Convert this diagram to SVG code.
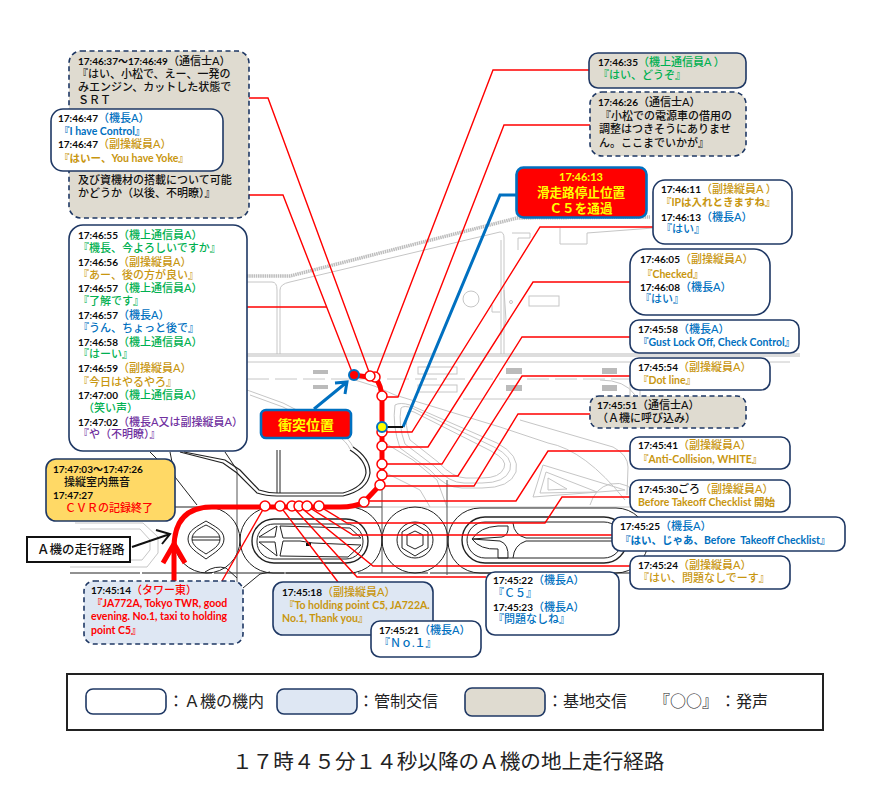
<svg xmlns="http://www.w3.org/2000/svg" width="871" height="793" viewBox="0 0 871 793">
<style>
text{font-family:"Lato","Noto Sans CJK JP",sans-serif;font-size:10.5px;font-weight:700;white-space:pre}
.t{font-size:10px;fill:#0a0a0a}
.j{font-size:11px;font-weight:500}
.bl{fill:#0070C0}.go{fill:#C8960F}.gr{fill:#00B050}.pu{fill:#7030A0}.re{fill:#F00}.k{fill:#111}
.w{fill:#fff;stroke:#1F3864;stroke-width:1.6}
.tan{fill:#DFDBD0;stroke:#1F3864;stroke-width:1.6}
.lb{fill:#DEE7F3;stroke:#1F3864;stroke-width:1.6}
.d{stroke-dasharray:5 3.5}
.hot{fill:#F00;stroke:#0070C0;stroke-width:2.6}
.y{fill:#FF0;font-weight:700;text-anchor:middle}
.leg{font-family:"Noto Sans CJK JP",sans-serif;font-size:16px;font-weight:400;fill:#222}
.gy{fill:none;stroke:#c6c6c6;stroke-width:1}
.bk{fill:none;stroke:#222;stroke-width:1}
.dk{fill:none;stroke:#555;stroke-width:1}
.rl{fill:none;stroke:#F00;stroke-width:1.4}
.st{fill:#fff;stroke:#F00;stroke-width:1.5}
</style>
<rect width="871" height="793" fill="#fff"/>
<g id="map">
<path class="gy" d="M247 276H290L517 218L650 217" style="stroke:#bdbdbd;stroke-width:3.500;stroke-dasharray:1.500 .7"/>
<path class="gy" d="M247 282H272Q277 282 277 290V354M280 354V290Q280 284 290 282L500 232Q504 232 504 238V354M501 354V240"/>
<path class="gy" d="M512 233H530V238L518 238V250M560 228V244H587V233L653 228"/>
<circle class="gy" cx="471" cy="299" r="8"/><circle class="gy" cx="511" cy="302" r="1.5"/>
<rect class="gy" x="529" y="296" width="30" height="10"/>
<path class="gy" d="M492 305V312H500M504 290L506 320L501 335"/>
<path class="gy" d="M247 354H800M247 356H800" style="stroke:#bbb"/>
<path class="gy" d="M247 379H640" style="stroke-dasharray:22 6"/>
<path class="gy" d="M247 362H790M463 399H600"/>
<rect class="gy" x="418" y="367" width="39" height="7"/><rect class="gy" x="418" y="385" width="39" height="7"/>
<g fill="#bbb"><rect x="313" y="370" width="15" height="4"/><rect x="313" y="385" width="15" height="4"/><rect x="506" y="368" width="16" height="6"/><rect x="506" y="385" width="16" height="6"/><rect x="602" y="368" width="15" height="6"/><rect x="602" y="385" width="15" height="6"/></g>
<path class="gy" d="M247 390L283 403L340 432Q350 440 353 447M250 395L283 407L337 435Q347 442 350 449"/>
<path class="gy" d="M355 380Q375 385 395 395L500 427L548 443Q585 450 625 500M630 380V398"/>
<path class="gy" d="M395 405Q400 402 410 405L497 443Q520 455 516 472Q510 488 482 488H462Q445 488 430 470L400 448Q392 425 395 405Z"/>
<path class="gy" d="M401 408Q404 405 412 408L494 447Q514 457 510 470Q505 483 482 483H464Q449 483 434 466L405 444Q398 425 401 408Z"/>
<path class="gy" d="M408 412Q410 410 414 412L491 451Q508 460 504 468Q500 478 482 478H466Q453 478 438 462L410 440Q404 425 408 412Z"/>
<path class="gy" d="M520 420L613 447Q628 455 628 467L627 495M380 440L413 460L437 480L447 507M380 470L420 490L430 507"/>
<path class="gy" d="M543 465L625 490L533 497Z M546 472L597 492L540 493Z M548 478L567 489L548 490Z"/>
<path class="gy" d="M590 505Q595 488 610 484Q630 480 640 500"/>
<path class="gy" d="M75 523H143L158 537V553L147 567H70M80 529H140L150 540V550L142 560H120"/>
<path class="gy" d="M382 507H630"/>
<path class="gy" d="M640 390V400M600 380Q625 380 635 395"/>
<path class="bk" d="M175 507H382M70 573H640" style="stroke-dasharray:70 2"/>
<path class="dk" d="M237 470V590M382 488V573M447 480V575"/>
<circle class="bk" cx="207" cy="540" r="33"/>
<path class="bk" d="M188 539C188 530 198 526 206 521C214 526 224 530 224 539C224 548 214 553 206 559C198 553 188 548 188 539Z"/>
<path class="bk" d="M192 539C192 532 200 528 206 525C212 528 220 532 220 539C220 546 212 550 206 554C200 550 192 546 192 539ZM192 537H220M192 540H220"/>
<rect class="bk" x="240" y="507" width="142" height="66" rx="33"/>
<rect class="bk" x="252" y="519" width="116" height="44" rx="22" style="stroke-width:1.4"/>
<rect class="bk" x="257" y="524" width="106" height="35" rx="17"/>
<path class="bk" d="M259 537L277 526L275 537ZM259 542L277 556L275 542ZM280 526L350 528L361 538H283ZM280 556L348 557L361 545L313 543L300 541H283Z"/>
<rect x="306" y="543" width="5" height="3" fill="#111"/>
<circle class="bk" cx="415" cy="540" r="33"/><circle class="bk" cx="415" cy="540" r="18"/>
<polygon class="bk" points="415,524 428,532 428,548 415,556 402,548 402,532"/>
<polygon class="bk" points="415,531 423,535 423,545 415,549 407,545 407,535"/>
<rect class="bk" x="448" y="508" width="200" height="65" rx="32"/>
<rect class="bk" x="462" y="517" width="165" height="46" rx="23" style="stroke-width:1.4"/>
<rect class="bk" x="467" y="522" width="155" height="36" rx="18"/>
<path class="bk" d="M472 539Q480 527 498 526H508Q509 535 502 537L472 539L500 541Q509 544 508 558H498V549Q480 550 472 539ZM513 523Q514 535 526 538H620M513 558Q514 545 526 541H620"/>
<path class="bk" d="M180 452L223 463L237 473L257 493Q266 496 277 496H343Q368 490 370 473Q370 458 353 447" style="stroke-width:1.2"/>
<path class="bk" d="M184 452L225 460L240 470L259 490Q268 493 277 493H343Q364 487 366 473Q366 460 350 450" style="stroke-width:1.2"/>
<path class="bk" d="M277 493V450M280 493V450"/>
<path class="bk" d="M150 452L160 462M170 452L175 477L197 505M237 470L225 452M205 572Q215 565 226 568L237 578M243 588L260 574L270 572"/>
</g>
<g id="connectors">
<path class="rl" d="M249 98H268L369 372"/>
<path class="rl" d="M249 195H283L352 372"/>
<path class="rl" d="M247 307H327"/>
<path class="rl" d="M589 70H493L377 372"/>
<path class="rl" d="M590 125H504L398 397H382"/>
<path class="rl" d="M653 227H540L412 432H382"/>
<path class="rl" d="M630 282H533L428 447H382"/>
<path class="rl" d="M630 337H522L442 464H382"/>
<path class="rl" d="M630 376H522L458 476H382"/>
<path class="rl" d="M590 414H518L474 486H380"/>
<path class="rl" d="M630 451H548L516 501H364"/>
<path class="rl" d="M630 497H562L545 523H347L319 506"/>
<path class="rl" d="M612 535H353L307 506"/>
<path class="rl" d="M630 566H373L299 506"/>
<path class="rl" d="M486 577H357L292 506"/>
<path class="rl" d="M338 582L280 506"/>
<path class="rl" d="M222 581L265 506"/>
<path d="M516 195H500L403 427" fill="none" stroke="#0070C0" stroke-width="3"/>
<path d="M403 427H382" fill="none" stroke="#111" stroke-width="2"/>
<path d="M174 581V548Q174 507 212 507H340Q355 507 364 502L380 485L382 475V400Q382 385 375 378L354 375" fill="none" stroke="#F00" stroke-width="5"/>
<path d="M163 563L174 544L185 563" fill="none" stroke="#F00" stroke-width="5"/>
<path d="M132 547L170 534M156 530L170 534L162 544" fill="none" stroke="#111" stroke-width="2"/>
<path d="M314 409L347 382M335 383L347 382L345 394" fill="none" stroke="#0070C0" stroke-width="3"/>
<g id="route-points">
<circle class="st" cx="265" cy="506" r="5"/><circle class="st" cx="280" cy="506" r="5"/><circle class="st" cx="292" cy="506" r="5"/><circle class="st" cx="299" cy="506" r="5"/><circle class="st" cx="307" cy="506" r="5"/><circle class="st" cx="319" cy="506" r="5"/><circle class="st" cx="364" cy="502" r="5"/><circle class="st" cx="380" cy="485" r="5"/><circle class="st" cx="382" cy="475" r="5"/><circle class="st" cx="382" cy="464" r="5"/><circle class="st" cx="382" cy="446" r="5"/><circle class="st" cx="382" cy="432" r="5"/><circle cx="382" cy="427" r="5" fill="#FF0" stroke="#0070C0" stroke-width="2"/><circle class="st" cx="382" cy="396" r="5"/><circle class="st" cx="375" cy="377" r="5"/><circle class="st" cx="370" cy="376" r="5"/><circle cx="354" cy="375" r="5" fill="#F00" stroke="#0070C0" stroke-width="2"/>
</g>
</g>
<g id="n-463749">
<rect class="tan d" x="69" y="51" width="180" height="167" rx="12"/>
<text x="78" y="65"><tspan class="t">17:46:37～17:46:49</tspan><tspan class="j k">（通信士A）</tspan></text>
<text class="j k" x="77" y="78">『はい、小松で、えー、一発の</text>
<text class="j k" x="78" y="91">みエンジン、カットした状態で</text>
<text class="j k" x="78" y="104">ＳＲＴ</text>
<text class="j k" x="78" y="184">及び資機材の搭載について可能</text>
<text class="j k" x="78" y="197">かどうか（以後、不明瞭）』</text>
</g>
<g id="n-464647">
<rect class="w" x="51" y="109" width="172" height="62" rx="12"/>
<text x="58" y="122"><tspan class="t">17:46:47</tspan><tspan class="j bl">（機長A）</tspan></text>
<text class="bl" x="59" y="135">『I have Control』</text>
<text x="58" y="148"><tspan class="t">17:46:47</tspan><tspan class="j go">（副操縦員A）</tspan></text>
<text class="go" x="59" y="162">『はいー、You have Yoke』</text>
</g>
<g id="n-464655">
<rect class="w" x="69" y="225" width="178" height="226" rx="14"/>
<text x="78" y="239"><tspan class="t">17:46:55</tspan><tspan class="j gr">（機上通信員A）</tspan></text>
<text class="j gr" x="78" y="252">『機長、今よろしいですか』</text>
<text x="78" y="266"><tspan class="t">17:46:56</tspan><tspan class="j go">（副操縦員A）</tspan></text>
<text class="j go" x="78" y="279">『あー、後の方が良い』</text>
<text x="78" y="292"><tspan class="t">17:46:57</tspan><tspan class="j gr">（機上通信員A）</tspan></text>
<text class="j gr" x="78" y="305">『了解です』</text>
<text x="78" y="319"><tspan class="t">17:46:57</tspan><tspan class="j bl">（機長A）</tspan></text>
<text class="j bl" x="78" y="332">『うん、ちょっと後で』</text>
<text x="78" y="346"><tspan class="t">17:46:58</tspan><tspan class="j gr">（機上通信員A）</tspan></text>
<text class="j gr" x="78" y="358">『はーい』</text>
<text x="78" y="372"><tspan class="t">17:46:59</tspan><tspan class="j go">（副操縦員A）</tspan></text>
<text class="j go" x="78" y="386">『今日はやるやろ』</text>
<text x="78" y="399"><tspan class="t">17:47:00</tspan><tspan class="j gr">（機上通信員A）</tspan></text>
<text class="j gr" x="83" y="412">（笑い声）</text>
<text x="78" y="426"><tspan class="t">17:47:02</tspan><tspan class="j pu">（機長A又は副操縦員A）</tspan></text>
<text class="j pu" x="78" y="438">『や（不明瞭）』</text>
</g>
<g id="n-464635">
<rect class="tan" x="589" y="53" width="157" height="35" rx="9"/>
<text x="598" y="66"><tspan class="t">17:46:35</tspan><tspan class="j gr">（機上通信員A ）</tspan></text>
<text class="j gr" x="598" y="79">『はい、どうぞ』</text>
</g>
<g id="n-464626">
<rect class="tan d" x="590" y="92" width="156" height="64" rx="12"/>
<text x="598" y="106"><tspan class="t">17:46:26</tspan><tspan class="j k">（通信士A）</tspan></text>
<text class="j k" x="600" y="120">『小松での電源車の借用の</text>
<text class="j k" x="599" y="133">調整はつきそうにありませ</text>
<text class="j k" x="599" y="147">ん。ここまでいかが』</text>
</g>
<g id="n-c5">
<rect class="hot" x="516.500" y="167.500" width="130" height="50" rx="7"/>
<text class="y" x="581" y="181" style="font-size:11px">17:46:13</text>
<text class="y" x="581" y="197" style="font-size:12.600px">滑走路停止位置</text>
<text class="y" x="581" y="213" style="font-size:12.600px">Ｃ５を通過</text>
</g>
<g id="n-464611">
<rect class="w" x="653" y="180" width="139" height="64" rx="12"/>
<text x="661" y="193"><tspan class="t">17:46:11</tspan><tspan class="j go">（副操縦員A ）</tspan></text>
<text class="go" x="661" y="206">『IPは入れときますね』</text>
<text x="661" y="221"><tspan class="t">17:46:13</tspan><tspan class="j bl">（機長A）</tspan></text>
<text class="j bl" x="661" y="233">『はい』</text>
</g>
<g id="n-464605">
<rect class="w" x="630" y="249" width="140" height="66" rx="16"/>
<text x="640" y="263"><tspan class="t">17:46:05</tspan><tspan class="j go">（副操縦員A）</tspan></text>
<text class="go" x="642" y="278">『Checked』</text>
<text x="640" y="291"><tspan class="t">17:46:08</tspan><tspan class="j bl">（機長A）</tspan></text>
<text class="j bl" x="640" y="303">『はい』</text>
</g>
<g id="n-464558">
<rect class="w" x="630" y="320" width="169" height="33" rx="9"/>
<text x="638" y="333"><tspan class="t">17:45:58</tspan><tspan class="j bl">（機長A）</tspan></text>
<text class="bl" x="638" y="346">『Gust Lock Off, Check Control』</text>
</g>
<g id="n-464554">
<rect class="w" x="630" y="358" width="140" height="32" rx="9"/>
<text x="638" y="371"><tspan class="t">17:45:54</tspan><tspan class="j go">（副操縦員A）</tspan></text>
<text class="go" x="638" y="384">『Dot line』</text>
</g>
<g id="n-464551">
<rect class="tan d" x="590" y="396" width="156" height="32" rx="9"/>
<text x="597" y="409"><tspan class="t">17:45:51</tspan><tspan class="j k">（通信士A）</tspan></text>
<text class="j k" x="597" y="422">（Ａ機に呼び込み）</text>
</g>
<g id="n-464541">
<rect class="w" x="630" y="437" width="160" height="32" rx="9"/>
<text x="638" y="449"><tspan class="t">17:45:41</tspan><tspan class="j go">（副操縦員A）</tspan></text>
<text class="go" x="638" y="463">『Anti-Collision, WHITE』</text>
</g>
<g id="n-464530">
<rect class="w" x="630" y="480" width="160" height="32" rx="9"/>
<text x="638" y="493"><tspan class="t">17:45:30</tspan><tspan class="j k">ごろ</tspan><tspan class="j go">（副操縦員A）</tspan></text>
<text class="go" x="638" y="506">Before Takeoff Checklist 開始</text>
</g>
<g id="n-464525">
<rect class="w" x="612" y="517" width="233" height="34" rx="9"/>
<text x="620" y="530"><tspan class="t">17:45:25</tspan><tspan class="j bl">（機長A）</tspan></text>
<text class="bl" x="620" y="544">『はい、じゃあ、Before  Takeoff Checklist』</text>
</g>
<g id="n-464524">
<rect class="w" x="630" y="556" width="160" height="33" rx="9"/>
<text x="638" y="569"><tspan class="t">17:45:24</tspan><tspan class="j go">（副操縦員A）</tspan></text>
<text class="j go" x="638" y="582">『はい、問題なしでーす』</text>
</g>
<g id="n-474703">
<rect x="46" y="459" width="129" height="62" rx="10" fill="#FFD966" stroke="#1F3864" stroke-width="1.6"/>
<text class="t" x="53" y="473">17:47:03～17:47:26</text>
<text class="j k" x="64" y="486">操縦室内無音</text>
<text class="t" x="53" y="499">17:47:27</text>
<text class="j re" x="65" y="512">ＣＶＲの記録終了</text>
</g>
<g id="n-route">
<rect x="27" y="537" width="103" height="25" fill="#fff" stroke="#111" stroke-width="2"/>
<text x="37" y="554" style="font-size:12.500px;font-weight:500;fill:#111">Ａ機の走行経路</text>
</g>
<g id="n-454514">
<rect class="lb d" x="84" y="581" width="159" height="63" rx="10"/>
<text x="91" y="594"><tspan class="t">17:45:14</tspan><tspan class="j re">（タワー東）</tspan></text>
<text class="re" x="92" y="607">『JA772A, Tokyo TWR, good</text>
<text class="re" x="91" y="620">evening. No.1, taxi to holding</text>
<text class="re" x="91" y="634">point C5』</text>
</g>
<g id="n-454518">
<rect class="lb" x="273" y="582" width="160" height="53" rx="10"/>
<text x="282" y="596"><tspan class="t">17:45:18</tspan><tspan class="j go">（副操縦員A）</tspan></text>
<text class="go" x="284" y="609">『To holding point C5, JA722A.</text>
<text class="go" x="282" y="622">No.1, Thank you』</text>
</g>
<g id="n-454521">
<rect class="w" x="371" y="621" width="110" height="36" rx="9"/>
<text x="379" y="634"><tspan class="t">17:45:21</tspan><tspan class="j bl">（機長A）</tspan></text>
<text class="j bl" x="379" y="647">『Ｎｏ.１』</text>
</g>
<g id="n-454522">
<rect class="w" x="486" y="572" width="133" height="63" rx="9"/>
<text x="493" y="584"><tspan class="t">17:45:22</tspan><tspan class="j bl">（機長A）</tspan></text>
<text class="j bl" x="493" y="597">『Ｃ５』</text>
<text x="493" y="611"><tspan class="t">17:45:23</tspan><tspan class="j bl">（機長A）</tspan></text>
<text class="j bl" x="493" y="623">『問題なしね』</text>
</g>
<g id="n-impact">
<rect class="hot" x="261" y="410" width="90" height="28" rx="5"/>
<text class="y" x="306" y="430" style="font-size:14px">衝突位置</text>
</g>
<g id="legend">
<rect x="67" y="674" width="756" height="56" fill="#fff" stroke="#222" stroke-width="2"/>
<rect class="w" x="86" y="689" width="80" height="25" rx="7"/>
<text class="leg" x="168" y="707">：Ａ機の機内</text>
<rect class="lb" x="277" y="689" width="80" height="25" rx="7"/>
<text class="leg" x="358" y="707">：管制交信</text>
<rect class="tan" x="465" y="688" width="80" height="28" rx="7"/>
<text class="leg" x="547" y="707">：基地交信</text>
<text class="leg" x="654" y="707">『○○』</text>
<text class="leg" x="720" y="707">：発声</text>
</g>
<text id="caption" x="232" y="769" style="font-family:'Noto Sans CJK JP',serif;font-size:20.600px;font-weight:400;fill:#222">１７時４５分１４秒以降のＡ機の地上走行経路</text>
</svg>
